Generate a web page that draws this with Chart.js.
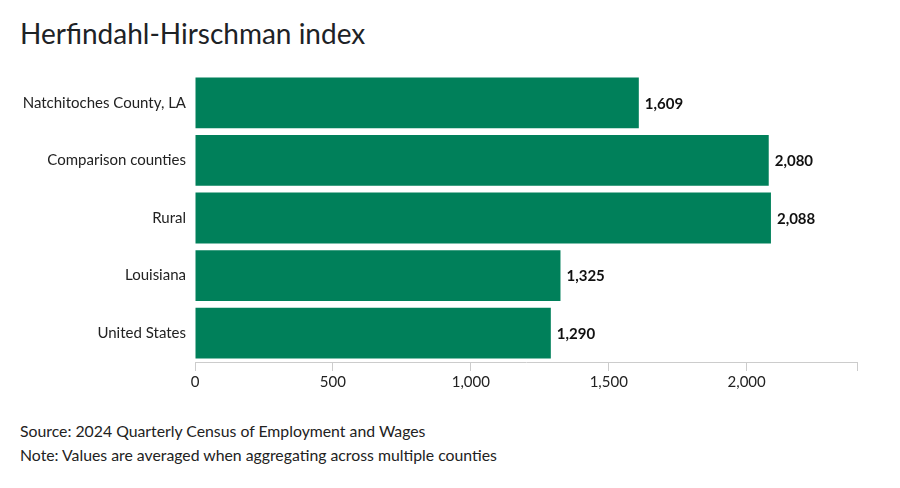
<!DOCTYPE html>
<html>
<head>
<meta charset="utf-8">
<script src="https://cdn.jsdelivr.net/npm/chart.js@4"></script>
<style>
  body { margin: 0; background: #fff; font-family: Lato, sans-serif; color: #222; }
  #wrap { position: relative; width: 900px; height: 488px; }
  h1 { position: absolute; left: 20px; top: 16px; margin: 0; font-weight: 400; font-size: 28px; color: #1d2226; }
  #chartBox { position: absolute; left: 0; top: 0; width: 900px; height: 400px; }
  .foot { position: absolute; left: 20px; font-size: 15.8px; color: #222; }
</style>
</head>
<body>
<div id="wrap">
  <h1>Herfindahl-Hirschman index</h1>
  <div id="chartBox"><canvas id="myChart"></canvas></div>
  <div class="foot" style="top:421px">Source: 2024 Quarterly Census of Employment and Wages</div>
  <div class="foot" style="top:445px">Note: Values are averaged when aggregating across multiple counties</div>
</div>
<script>
const places = ['Natchitoches County, LA', 'Comparison counties', 'Rural', 'Louisiana', 'United States'];
const hhiValues = [1609, 2080, 2088, 1325, 1290];
const xTicks = [0, 500, 1000, 1500, 2000];

// labels at the end of each bar
const endLabels = {
  id: 'endLabels',
  afterDatasetsDraw(chart) {
    const ctx = chart.ctx;
    const meta = chart.getDatasetMeta(0);
    ctx.save();
    ctx.font = 'bold 15px Lato';
    ctx.fillStyle = '#111';
    ctx.textBaseline = 'middle';
    meta.data.forEach((bar, i) => {
      ctx.fillText(hhiValues[i].toLocaleString('en-US'), bar.x + 6, bar.y + 1);
    });
    ctx.restore();
  }
};

let ctx = document.getElementById('myChart').getContext('2d');
let chart = new Chart(ctx, {
  type: 'bar',
  data: {
    labels: places,
    datasets: [{
      data: hhiValues,
      backgroundColor: '#00805a',
      borderWidth: 0,
      barPercentage: 0.9,
      categoryPercentage: 0.98
    }]
  },
  options: {
    indexAxis: 'y',
    responsive: true,
    maintainAspectRatio: false,
    animation: false,
    layout: { padding: { top: 74, right: 43, bottom: 8, left: 0 } },
    plugins: { legend: { display: false }, tooltip: { enabled: false } },
    scales: {
      x: {
        min: 0,
        max: 2400,
        afterBuildTicks: s => {
          s.ticks = xTicks.concat([2400]).map(v => ({ value: v }));
        },
        afterFit: s => { s.height = 30; },
        border: { display: true, color: '#cccccc' },
        grid: { drawOnChartArea: false, drawTicks: true, tickLength: 9, color: '#cccccc' },
        ticks: {
          padding: 2,
          color: '#222',
          font: { family: 'Lato', size: 15 },
          callback: v => xTicks.includes(v) ? v.toLocaleString('en-US') : ''
        }
      },
      y: {
        afterFit: s => { s.width = 195; },
        border: { display: false },
        grid: { display: false },
        ticks: { padding: 1, color: '#222', font: { family: 'Lato', size: 15 } }
      }
    }
  },
  plugins: [endLabels]
});
</script>
</body>
</html>
